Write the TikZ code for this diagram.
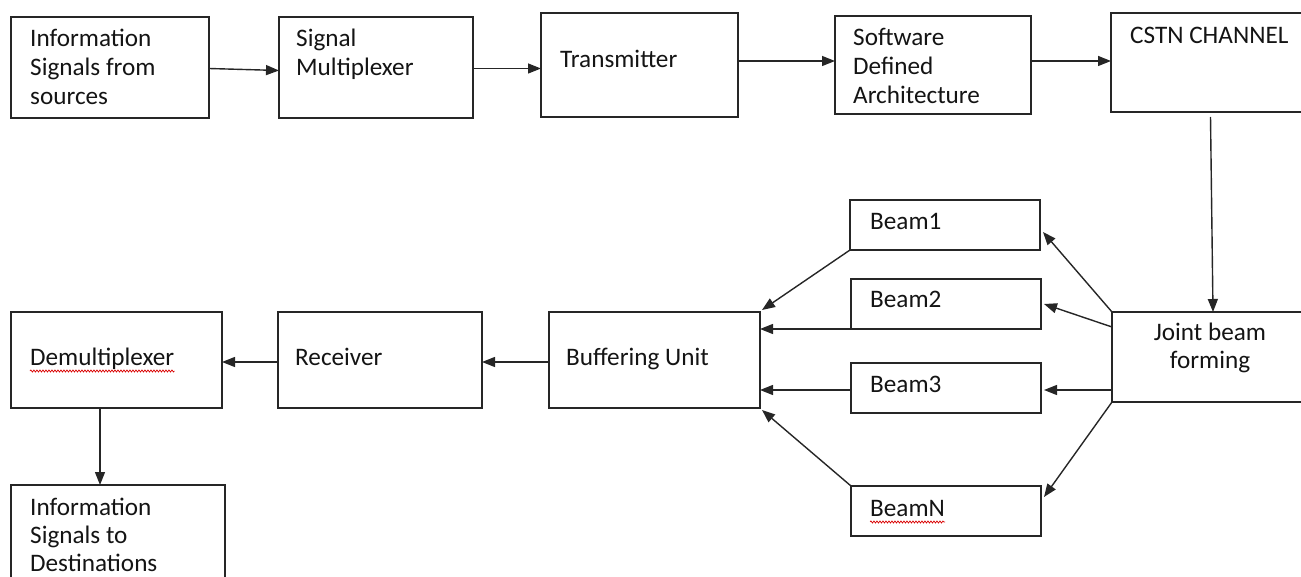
\documentclass[tikz,border=0pt]{standalone}
\usepackage{fontspec}
\setmainfont{Carlito}
\usetikzlibrary{arrows.meta,calc,decorations.pathmorphing}
\newcommand\ml[2][29pt]{\vtop{\baselineskip=#1\lineskiplimit=-100pt\lineskip=0pt\halign{##\hfil\cr#2\crcr}}}
\newcommand\mlc[1]{\vtop{\baselineskip=28pt\lineskiplimit=-100pt\lineskip=0pt\halign{\hfil##\hfil\cr#1\crcr}}}
\newcommand\bx[5]{\node[box,minimum width={(#4-#2)*1pt},minimum height={(#5-#3)*1pt}] (#1) at ({(#2+#4)/2},{(#3+#5)/2}) {};}
\begin{document}
\begin{tikzpicture}[x=1pt,y=-1pt,
  box/.style={draw=black!85,line width=1.4pt,inner sep=0pt,outer sep=0pt},
  lbl/.style={inner sep=0pt,font=\fontsize{25.2}{29}\selectfont,text=black!92},
  arr/.style={draw=black!85,line width=1.4pt,-{Triangle[length=13pt,width=10pt]}},
  spell/.style={draw=red!85!black,line width=0.7pt,decorate,decoration={snake,amplitude=1pt,segment length=3pt}}]
\useasboundingbox (0,0) rectangle (1301,577);
% boxes
\bx{b1}{11}{17}{209}{118}
\bx{b2}{279}{17}{473}{118}
\bx{b3}{541}{13}{738}{117}
\bx{b4}{835}{16}{1031}{114}
\bx{b5}{1111}{13}{1304}{112}
\bx{jb}{1112}{312}{1304}{402}
\bx{be1}{850}{200}{1040}{250}
\bx{be2}{851}{279}{1041}{329}
\bx{be3}{851}{363}{1041}{413}
\bx{beN}{851}{486}{1041}{536}
\bx{buf}{549}{312}{760}{408}
\bx{rec}{278}{312}{482}{408}
\bx{dem}{11}{312}{222}{408}
\bx{dst}{11}{485}{225}{600}
% labels
\node[lbl,anchor=base west] (t1) at (30,47) {\ml{Information\cr Signals from\cr sources}};
\node[lbl,anchor=base west] (t2) at (296,47) {\ml{Signal\cr Multiplexer}};
\node[lbl,anchor=base west] (t3) at (560,68) {Transmitter};
\node[lbl,anchor=base west] (t4) at (853,46) {\ml{Software\cr Defined\cr Architecture}};
\node[lbl,anchor=base west] (t5) at (1130,44) {CSTN CHANNEL};
\node[lbl,anchor=base] (tj) at (1210,341) {\mlc{Joint beam\cr forming}};
\node[lbl,anchor=base west] (tb1) at (870,230) {Beam1};
\node[lbl,anchor=base west] (tb2) at (870,308) {Beam2};
\node[lbl,anchor=base west] (tb3) at (870,392) {Beam3};
\node[lbl,anchor=base west] (tbN) at (870,516) {BeamN};
\node[lbl,anchor=base west] (tbuf) at (566,365) {Buffering Unit};
\node[lbl,anchor=base west] (trec) at (295,365) {Receiver};
\node[lbl,anchor=base west] (tdem) at (30,365) {Demultiplexer};
\node[lbl,anchor=base west] (tdst) at (30,515) {\ml[28pt]{Information\cr Signals to\cr Destinations}};
% spell-check underlines
\draw[spell] ($(tdem.base west)+(0,6)$) -- ($(tdem.base east)+(0,6)$);
\draw[spell] ($(tbN.base west)+(0,6)$) -- ($(tbN.base east)+(0,6)$);
% helper coordinates
\coordinate (s2) at ($(b2.east)+(0,1)$);
\coordinate (s3) at ($(b3.east)+(0,-4)$);
\coordinate (s4) at ($(b4.east)+(0,-4)$);
\coordinate (sb2) at (be2.south west);
\coordinate (sb3) at ($(be3.west)+(0,2)$);
\coordinate (sbuf) at ($(buf.west)+(0,2)$);
\coordinate (srec) at ($(rec.west)+(0,2)$);
\coordinate (xd) at (100,0);
% top row
\draw[arr] ($(b1.east)+(0,1)$) -- ($(b2.west)+(0,3)$);
\draw[arr] (s2) -- (s2 -| b3.west);
\draw[arr] (s3) -- (s3 -| b4.west);
\draw[arr] (s4) -- (s4 -| b5.west);
\draw[arr] ($(b5.south)+(3,5)$) -- ($(jb.north)+(5,0)$);
% joint beam forming to beams
\draw[arr] (jb.north west) -- ($(be1.east)+(3,7)$);
\draw[arr] ($(jb.north west)+(0,15)$) -- ($(be2.east)+(3,0)$);
\draw[arr] ($(jb.north west)+(0,78)$) -- ($(be3.east)+(3,2)$);
\draw[arr] (jb.south west) -- ($(beN.east)+(3,-14)$);
% beams to buffering unit
\draw[arr] (be1.south west) -- ($(buf.north east)+(2,-2)$);
\draw[arr] (sb2) -- (sb2 -| buf.east);
\draw[arr] (sb3) -- (sb3 -| buf.east);
\draw[arr] (beN.north west) -- ($(buf.south east)+(2,2)$);
% bottom row
\draw[arr] (sbuf) -- (sbuf -| rec.east);
\draw[arr] (srec) -- (srec -| dem.east);
\draw[arr] (dem.south -| xd) -- (dst.north -| xd);
\end{tikzpicture}
\end{document}
